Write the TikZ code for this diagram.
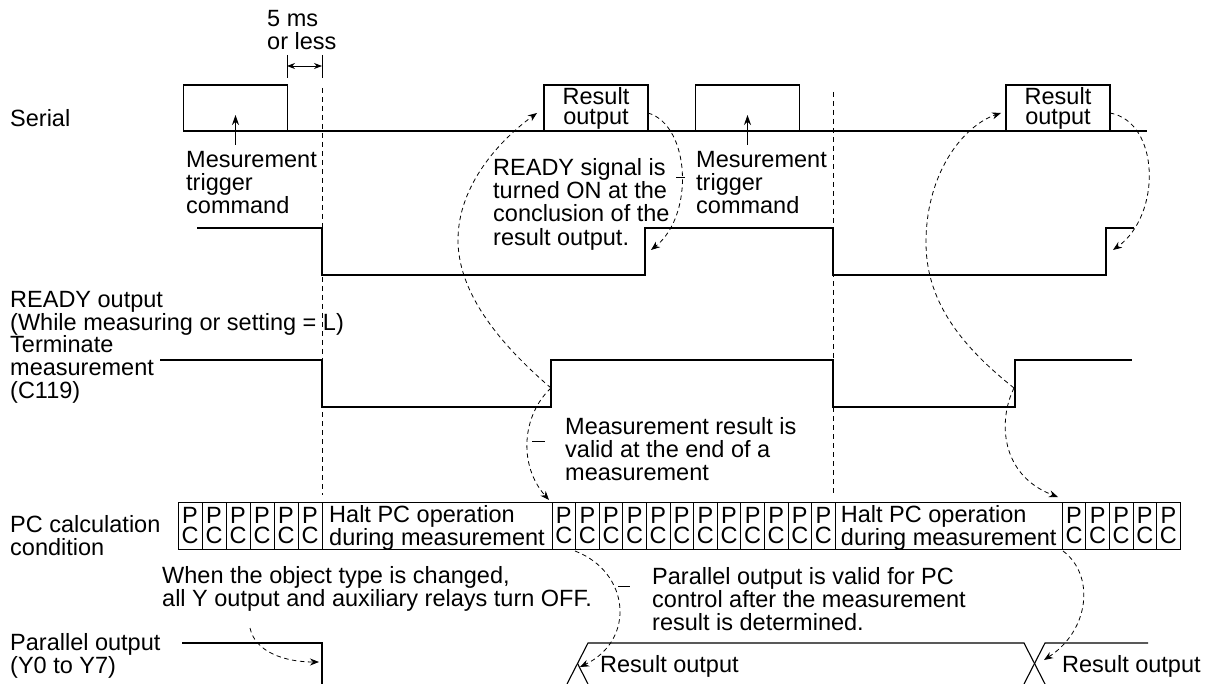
\documentclass[tikz,border=0pt]{standalone}
\usepackage{fontspec}
\setmainfont{Liberation Sans}
\usetikzlibrary{arrows.meta}
\newcommand{\lbfont}{\fontsize{23.5}{23.3}\selectfont}
\newcommand{\boxfont}{\fontsize{23.5}{20}\selectfont}

\begin{document}
\begin{tikzpicture}[x=1pt, y=-1pt, >=Stealth,
  wave/.style={line width=1.1pt},
  lbl/.style={anchor=north west, align=left, inner sep=0pt, font=\lbfont},
  pulse/.style={draw, line width=1.1pt, minimum width=104pt, minimum height=46pt, inner sep=0pt, align=center, font=\boxfont},
  cell/.style={draw, line width=0.8pt, minimum width=23.6pt, minimum height=47pt, inner sep=0pt, align=center, text depth=0pt, font=\boxfont},
  guide/.style={line width=0.9pt, dash pattern=on 5pt off 4pt},
  note/.style={line width=0.8pt, dash pattern=on 4.5pt off 3.5pt, -{Stealth[length=9pt,width=7pt]}},
  trig/.style={line width=0.9pt, -{Stealth[length=10pt,width=7pt]}},
  lead/.style={line width=0.8pt}]

\useasboundingbox (0,0) rectangle (1220,684);

% row labels
\node[lbl] (serial) at (10,109) {Serial};
\node[lbl] (readyout) at (10,291) {READY output\\(While measuring or setting = L)};
\node[lbl] (term) at (10,335) {Terminate\\measurement\\(C119)};
\node[lbl] (pccalc) at (10,515) {PC calculation\\condition};
\node[lbl] (parout) at (10,633) {Parallel output\\(Y0 to Y7)};

% serial line and frames
\draw[wave] (184,131) -- (1147,131);
\node[pulse] (trig1) at (235.5,108) {};
\node[pulse] (res1) at (596,108) {Result\\output};
\node[pulse] (trig2) at (747.5,108) {};
\node[pulse] (res2) at (1058,108) {Result\\output};

\node[lbl] (cmd1) at (186,151) {Mesurement\\trigger\\command};
\node[lbl] (cmd2) at (696,151) {Mesurement\\trigger\\command};
\draw[trig] (trig1.center |- cmd1.north) ++(0,-6) -- ([yshift=-7pt]trig1.center);
\draw[trig] (trig2.center |- cmd2.north) ++(0,-6) -- ([yshift=-7pt]trig2.center);

% 5 ms
\node[lbl] (fivems) at (267,10) {5 ms\\or less};
\draw[lead] (287,55) -- (287,78) (322,55) -- (322,78);
\draw[lead, {Stealth[length=8pt,width=6pt]}-{Stealth[length=8pt,width=6pt]}] (287,66) -- (322,66);

% timing guides
\draw[guide] (322,88) -- (322,495);
\draw[guide] (833,92) -- (833,495);

% READY and terminate
\draw[wave] (197,228) -- (322,228) -- (322,275) -- (645,275) -- (645,228) -- (833,228)
  -- (833,275) -- (1106,275) -- (1106,228) -- (1134,228);
\draw[wave] (160,360) -- (322,360) -- (322,407) -- (551,407) -- (551,360) -- (833,360)
  -- (833,407) -- (1015,407) -- (1015,360) -- (1132,360);

% PC row
\foreach \i in {0,...,5}
  \node[cell, minimum width=24pt] (pa\i) at ({190+24*\i},525.5) {P\\C};
\node[cell, minimum width=230pt, align=left] (halt1) at (437,525.5) {Halt PC operation\\during measurement};
\foreach \i in {0,...,11}
  \node[cell] (pb\i) at ({563.8+23.6*\i},525.5) {P\\C};
\node[cell, minimum width=227pt, align=left] (halt2) at (948.7,525.5) {Halt PC operation\\during measurement};
\foreach \i in {0,...,4}
  \node[cell] (pc\i) at ({1074+23.6*\i},525.5) {P\\C};

% parallel output
\draw[wave] (182,643) -- (322,643) -- (322,684);
\draw[wave] (567,684) -- (588,643) -- (1024,643) -- (1045,684);
\draw[wave] (577.5,663.5) -- (588,684);
\draw[wave] (1024,684) -- (1045,643) -- (1148,643);
\node[lbl] (resout1) at (600,655) {Result output};
\node[lbl] (resout2) at (1062,655) {Result output};

% notes
\node[lbl] (readysig) at (493,158) {READY signal is\\turned ON at the\\conclusion of the\\result output.};
\node[lbl] (mres) at (565,417) {Measurement result is\\valid at the end of a\\measurement};
\node[lbl] (objchg) at (162,566) {When the object type is changed,\\all Y output and auxiliary relays turn OFF.};
\node[lbl] (parvalid) at (652,567) {Parallel output is valid for PC\\control after the measurement\\result is determined.};

% dashed notes
\coordinate (up1) at (551,388);
\coordinate (up2) at (1014,388);
\coordinate (mid1) at (458,240);
\coordinate (mid2) at (926,240);
\coordinate (in1) at (537,113);
\coordinate (in2) at (1001,113);
\coordinate (pc1) at (549,500);
\coordinate (pc2) at (1058,497);
\coordinate (out1) at (648,113);
\coordinate (out2) at (1110,113);
\coordinate (rdy1) at (651,250);
\coordinate (rdy2) at (1113,250);
\coordinate (h1) at (575,551);
\coordinate (h2) at (1063,551);
\coordinate (x1) at (580,667);
\coordinate (x2) at (1044,660);
\coordinate (chg) at (250,628);
\coordinate (fall) at (319,662);

\draw[note] (up1) .. controls (495,340) and (458,290) .. (mid1)
  .. controls (458,185) and (500,140) .. (in1);
\draw[note] (up1) .. controls (522,415) and (518,465) .. (pc1);
\draw[note] (out1) .. controls (690,125) and (695,215) .. (rdy1);
\draw[note] (up2) .. controls (960,345) and (925,300) .. (mid2)
  .. controls (927,170) and (965,125) .. (in2);
\draw[note] (up2) .. controls (998,420) and (1000,475) .. (pc2);
\draw[note] (out2) .. controls (1160,122) and (1162,215) .. (rdy2);
\draw[note] (h1) .. controls (630,572) and (636,640) .. (x1);
\draw[note] (h2) .. controls (1095,575) and (1090,630) .. (x2);
\draw[note] (chg) .. controls (255,652) and (285,662) .. (fall);

% leaders
\draw[lead] (676,177) -- (685,177);
\draw[lead] (532,441) -- (545,441);
\draw[lead] (618,586) -- (630,586);
\end{tikzpicture}
\end{document}
